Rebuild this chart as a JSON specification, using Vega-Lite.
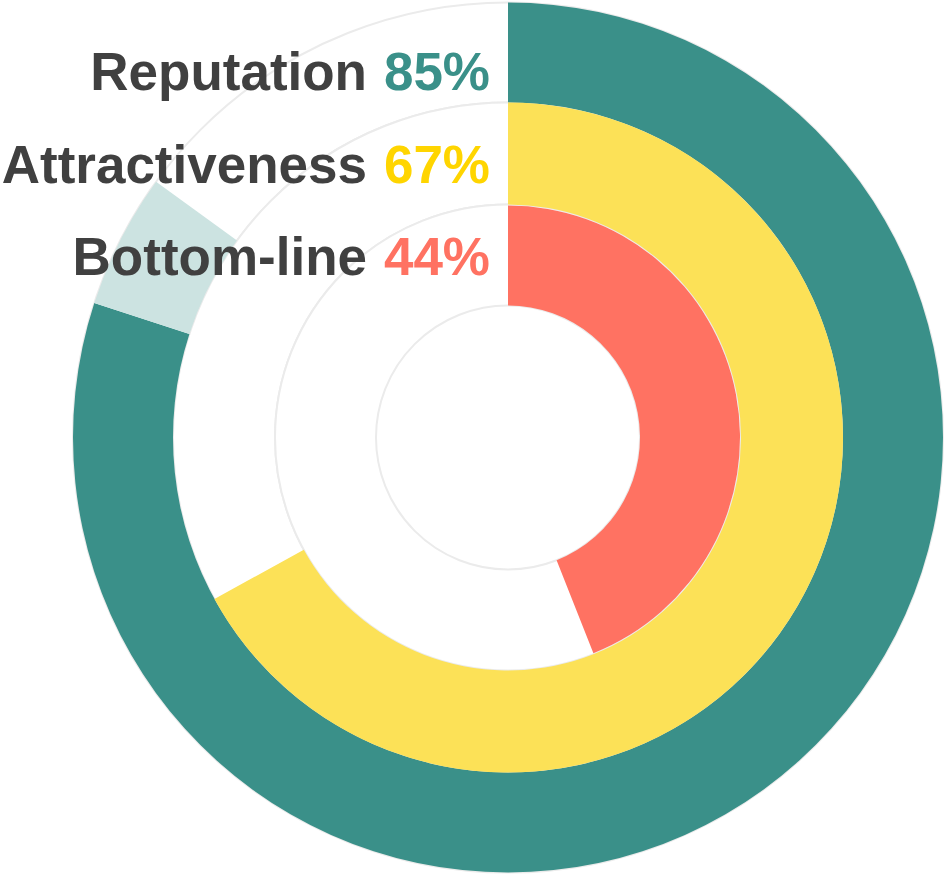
{
  "$schema": "https://vega.github.io/schema/vega-lite/v6.json",
  "width": 870,
  "height": 875,
  "autosize": {"type": "none"},
  "padding": {"left": 73, "top": 0, "right": 2, "bottom": 0},
  "background": "white",
  "view": {"stroke": null},
  "config": {"text": {"font": "Liberation Sans"}},
  "datasets": {
    "metrics": [
      {"metric": "Reputation", "value": 0.85, "solid": 0.80},
      {"metric": "Attractiveness", "value": 0.67, "solid": 0.67},
      {"metric": "Bottom-line", "value": 0.44, "solid": 0.44}
    ]
  },
  "data": {"name": "metrics"},
  "layer": [
    {
      "transform": [{"filter": "datum.metric === 'Reputation'"}],
      "mark": {"type": "arc", "radius": 435, "radius2": 335, "theta": 0, "theta2": 6.2832, "fill": "white", "stroke": "#ebebeb", "strokeWidth": 2},
      "encoding": {}
    },
    {
      "transform": [{"filter": "datum.metric === 'Attractiveness'"}],
      "mark": {"type": "arc", "radius": 335, "radius2": 233, "theta": 0, "theta2": 6.2832, "fill": "white", "stroke": "#ebebeb", "strokeWidth": 2},
      "encoding": {}
    },
    {
      "transform": [{"filter": "datum.metric === 'Bottom-line'"}],
      "mark": {"type": "arc", "radius": 233, "radius2": 132, "theta": 0, "theta2": 6.2832, "fill": "white", "stroke": "#ebebeb", "strokeWidth": 2},
      "encoding": {}
    },
    {
      "transform": [{"filter": "datum.metric === 'Reputation'"}],
      "mark": {"type": "arc", "radius": 435, "radius2": 335, "fill": "#3a9089"},
      "encoding": {
        "theta": {"field": "solid", "type": "quantitative", "scale": {"domain": [0, 1]}}
      }
    },
    {
      "transform": [{"filter": "datum.metric === 'Reputation'"}],
      "mark": {"type": "arc", "radius": 435, "radius2": 335, "fill": "#cce3e1"},
      "encoding": {
        "theta": {"field": "solid", "type": "quantitative", "stack": null, "scale": {"domain": [0, 1]}},
        "theta2": {"field": "value"}
      }
    },
    {
      "transform": [{"filter": "datum.metric === 'Attractiveness'"}],
      "mark": {"type": "arc", "radius": 335, "radius2": 233, "fill": "#fce157"},
      "encoding": {
        "theta": {"field": "value", "type": "quantitative", "scale": {"domain": [0, 1]}}
      }
    },
    {
      "transform": [{"filter": "datum.metric === 'Bottom-line'"}],
      "mark": {"type": "arc", "radius": 232, "radius2": 132, "fill": "#ff7262"},
      "encoding": {
        "theta": {"field": "value", "type": "quantitative", "scale": {"domain": [0, 1]}}
      }
    },
    {
      "mark": {"type": "text", "align": "right", "baseline": "alphabetic", "fontSize": 53, "fontWeight": "bold", "color": "#404040"},
      "encoding": {
        "y": {"field": "metric", "type": "nominal", "sort": ["Reputation", "Attractiveness", "Bottom-line"], "scale": {"type": "point", "range": [90, 275], "padding": 0}, "axis": null},
        "x": {"value": 294},
        "text": {"field": "metric"}
      }
    },
    {
      "mark": {"type": "text", "align": "right", "baseline": "alphabetic", "fontSize": 53, "fontWeight": "bold"},
      "encoding": {
        "y": {"field": "metric", "type": "nominal", "sort": ["Reputation", "Attractiveness", "Bottom-line"], "scale": {"type": "point", "range": [90, 275], "padding": 0}, "axis": null},
        "x": {"value": 417},
        "text": {"field": "value", "type": "quantitative", "format": ".0%"},
        "color": {"field": "metric", "type": "nominal", "scale": {"domain": ["Reputation", "Attractiveness", "Bottom-line"], "range": ["#3a9089", "#ffd500", "#ff7262"]}, "legend": null}
      }
    }
  ]
}
